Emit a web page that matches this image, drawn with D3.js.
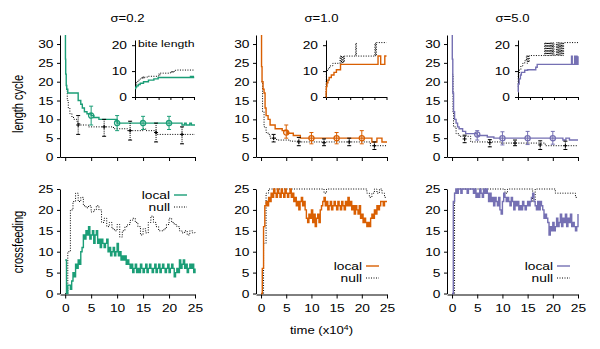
<!DOCTYPE html>
<html>
<head>
<meta charset="utf-8">
<script src="https://cdn.jsdelivr.net/npm/d3@7"></script>
<style>
  body { margin: 0; background: #fff; }
  svg { display: block; font-family: "Liberation Sans", Arial, sans-serif; }
</style>
</head>
<body>
<svg id="chart" width="600" height="349"></svg>
<script>
/* ---------- data ---------- */
const sigmaLabels = ['σ=0.2', 'σ=1.0', 'σ=5.0'];
const seriesColors = ['#1b9e77', '#d95f02', '#7570b3'];

const timeTicks = [0, 5, 10, 15, 20, 25];
const cycleTicks = [0, 5, 10, 15, 20, 25, 30];
const biteTicks = [0, 10, 20];
const crossTicks = [0, 5, 10, 15, 20, 25];

// length cycle, step data [time, value]
const cycleLocal02 = [[0,33],[0.05,26],[0.1,22],[0.2,19],[0.3,18],[0.5,17],[2.5,15],[3,14],[3.3,13],[3.7,12],[4.2,11.5],[5,11],[5.5,10.5],[6.5,10],[10,9],[22.5,8.5],[23,9],[23.3,8.5],[24,9],[24.3,8.5],[25,8.5]];
const cycleNull02 = [[0.2,18],[0.4,15],[0.6,13],[0.9,11.5],[1.3,10.5],[1.7,10],[2.3,9],[2.8,8.5],[4.5,8],[9.3,7.5],[12,7],[15,7.5],[15.5,7],[17.5,6],[25,6]];
const cycleLocal10 = [[0,33],[0.1,24],[0.2,20],[0.4,18],[0.6,17],[0.8,13],[1,11],[1.4,10],[1.8,8.5],[2.8,7.5],[4.2,7],[5.2,6.3],[6.4,5.7],[7.8,5],[22,4],[23,5],[24,4],[25,4]];
const cycleNull10 = [[0.1,20],[0.3,12],[0.6,8],[1,6.5],[1.4,6],[1.8,5],[3.1,4.5],[5.8,4.2],[7.8,4],[21.7,3],[25,3]];
const cycleLocal50 = [[0,33],[0.05,26],[0.15,17],[0.3,12],[0.5,10],[0.8,9],[1.1,8],[1.4,7.5],[2.1,6.8],[2.7,6.2],[5,5.7],[7,5.3],[8.3,5],[22,4.5],[22.6,5],[23.3,4.5],[25,4.5]];
const cycleNull50 = [[0.05,22],[0.2,12],[0.3,8],[0.8,6.2],[1.4,5.5],[3.7,4],[9.6,3.7],[18.5,3],[25,3]];

// error bars [time, value, low, high]
const cycleBarsLocal02 = [[5,11,8.5,13.5],[10,9,7,11],[15,9,7.3,10.8],[20,9,7.3,10.8]];
const cycleBarsNull02 = [[2.5,8.5,6,11],[7.5,8,5.5,10],[12.5,7,4.5,9.5],[17.5,6.5,4,9],[22.5,6,3.5,8]];
const cycleBarsLocal10 = [[5,6.5,5,8.5],[10,5,3.5,6.5],[15,5,3.5,6.5],[20,5,3.5,7]];
const cycleBarsNull10 = [[2.5,5,4,6],[7.5,4,3,5.2],[12.5,3.8,3,4.8],[17.5,4,3,5],[22.5,3,2,4]];
const cycleBarsLocal50 = [[5,6,4.5,7],[10,5,3.2,6.7],[15,5,3.3,6.8],[20,5,3.4,6.8]];
const cycleBarsNull50 = [[2.5,4.8,3.8,5.8],[7.5,3.8,2.7,4.6],[12.5,3.7,3,4.5],[17.5,3.2,2,4.3],[22.5,3,2,4.2]];

// bite length insets, step data [time, value]
const biteLocal02 = [[0,3.3],[0.3,3.8],[0.7,4.3],[1.4,4.8],[2.2,5.3],[3.6,5.9],[5.7,6.5],[8,7],[9.8,7.5],[23.5,7.9],[24,7.5],[24.3,7.9],[24.6,7.5],[24.8,7.9],[25,7.9]];
const biteNull02 = [[0,4],[0.5,5.5],[1.2,6.5],[2.2,7],[2.9,7.7],[3.2,7.2],[3.5,7.9],[3.8,7.2],[4.1,7.7],[5.7,8],[10,8.9],[10.3,8.4],[10.6,9.2],[12,9.2],[15,9.8],[15.4,9.4],[15.8,10],[16.2,9.5],[16.6,10],[17.2,10.4],[25,10.4]];
const biteLocal10 = [[0,0],[0.05,2],[0.15,4],[0.4,5.5],[0.8,6.5],[1.3,7.5],[2.2,8.5],[3.3,9.5],[4.3,10.5],[6,12.6],[21.5,15.8],[22.6,12.6],[24.3,15.8],[25,15.8]];
const biteNull10 = [[0,0],[0.05,6],[0.15,10],[0.6,10.5],[1,11],[1.5,12],[2.8,13],[5.8,15.8],[6.1,13],[6.4,15.8],[6.7,13],[7,15.8],[7.3,13.5],[7.6,15.8],[12.3,20.8],[12.5,15.8],[20.2,20.8],[20.5,15.8],[20.8,21],[25,21]];
const biteLocal50 = [[0,2],[0.1,5],[0.5,7],[1,8.5],[1.4,9.5],[2.8,10.3],[4,10.5],[7.4,11.5],[8,12.6],[22.3,15.7],[22.6,12.6],[23.6,15.7],[24,12.6],[24.3,15.7],[24.6,12.6],[25,15.7]];
const biteNull50 = [[0,4],[0.1,9],[0.6,10.5],[1.2,12],[2,13],[2.8,14],[3.5,16],[3.8,13],[4.1,16],[4.4,13.5],[4.7,16],[11.1,21],[11.4,16],[11.7,21],[12,16],[12.3,21],[12.6,16],[12.9,21],[13.2,16],[13.5,21],[13.8,16],[14.1,21],[14.4,16],[14.7,21],[15,16],[16,21],[16.3,16],[16.6,21],[16.9,16],[17.2,21],[17.5,16],[17.8,21],[18.1,16],[18.4,21],[18.7,16],[19,21],[25,21]];

// crossfeeding: local sampled every 0.25, null every 0.5 (x10^4)
const localStep = 0.25;
const nullStep = 0.5;
const crossLocal02 = [8,0,2,2,1,3,5,4,7,6, 8,7,10,11,14,13,15,14,16,13, 14,15,12,14,15,12,13,11,13,12, 11,12,13,10,11,9,10,11,9,10, 12,9,10,8,9,8,9,7,8,7, 6,7,5,6,7,5,6,5,7,6, 5,6,7,5,6,7,6,5,6,7, 5,6,7,5,6,7,6,5,6,7, 5,6,7,6,4,5,6,5,8,6, 7,8,6,7,5,6,7,6,7,5, 6];
const crossNull02 = [0,10,20,22,24,22,23,21,20.5,21, 19.5,20,21,20,17,18,16,17,15.5,15, 16.5,13.5,15,16,16.5,17.5,18,17,16,14, 15.5,14.5,17,18.5,17,16,15,15,15.5,16.5, 18,17,16.5,16,15,14.5,15,14,15,14.5, 15];
const crossLocal10 = [0,6,16,21,22,21,23,22,24,23, 25,24,23,25,24,23,25,24,23,25, 24,23,24,25,23,24,22,23,21,22, 20,22,23,21,22,20,18,17,19,18, 20,17,19,16,18,19,17,20,21,22, 23,21,22,20,21,22,20,21,22,21, 20,22,21,20,22,21,20,22,21,23, 21,22,20,21,19,21,20,19,21,18, 19,17,18,17,16,17,16,18,19,18, 20,19,21,20,21,22,22,21,22,22, 22];
const crossNull10 = [0,12,24,25,25,25,25,25,25,25, 25,25,25,25,25,25,25,25,25,25, 25,25,25,25,25,24,25,25,25,25, 25,25,25,25,25,25,25,25,25,25, 25,25,24,23,24,25,24,25,24,23, 23];
const crossLocal50 = [0,22,24,25,24,25,25,24,25,25, 25,25,24,25,25,25,25,24,25,23, 24,23,25,24,23,25,24,25,24,22, 24,22,23,21,23,22,21,23,20,19, 22,24,23,22,23,22,21,23,22,20, 22,21,22,20,21,20,22,21,20,21, 22,21,22,23,24,22,21,20,22,20, 22,21,20,18,19,18,17,14,16,15, 17,15,16,18,16,17,19,16,18,17, 19,16,18,17,19,16,17,16,15,16, 19];
const crossNull50 = [0,24,25,25,25,25,25,25,25,25, 25,25,25,25,25,25,25,25,25,25, 25,24,25,25,25,25,25,25,25,25, 25,25,22,25,25,25,25,25,25,25, 25,24,24,24,24,24,24,24,24,23, 23];

const cycleLocal = [cycleLocal02, cycleLocal10, cycleLocal50];
const cycleNull = [cycleNull02, cycleNull10, cycleNull50];
const barsLocal = [cycleBarsLocal02, cycleBarsLocal10, cycleBarsLocal50];
const barsNull = [cycleBarsNull02, cycleBarsNull10, cycleBarsNull50];
const biteLocal = [biteLocal02, biteLocal10, biteLocal50];
const biteNull = [biteNull02, biteNull10, biteNull50];
const crossLocal = [crossLocal02, crossLocal10, crossLocal50];
const crossNull = [crossNull02, crossNull10, crossNull50];

/* ---------- layout ---------- */
const panels = [
  { x0: 60, x1: 195, ix0: 135, ix1: 194, legY: 195 },
  { x0: 256, x1: 387, ix0: 326, ix1: 386.5, legY: 266 },
  { x0: 447, x1: 578, ix0: 518, ix1: 578, legY: 266 }
];
const SX = 1.25;   // the original's lettering is horizontally stretched
const dotted = '1,1.5';
const tickFont = 11;

const svg = d3.select('#chart');

function label(g, x, y, s, size, anchor, rot) {
  return g.append('text')
    .attr('transform', `translate(${x},${y}) scale(${SX},1)` + (rot ? ` rotate(${rot})` : ''))
    .attr('font-size', size)
    .attr('text-anchor', anchor || 'middle')
    .attr('fill', '#000')
    .text(s);
}

function styleAxis(g) {
  g.attr('font-family', null).attr('font-size', tickFont);
  g.selectAll('.domain').attr('stroke', '#000');
  g.selectAll('.tick line').attr('stroke', '#000');
  g.selectAll('.tick text').attr('fill', '#000');
}

function leftAxis(g, scale, xPos, ticks, gap) {
  const a = g.append('g').attr('transform', `translate(${xPos},0)`)
    .call(d3.axisLeft(scale).tickValues(ticks).tickSize(3).tickSizeOuter(0));
  styleAxis(a);
  a.selectAll('.tick text')
    .attr('x', -gap / SX)
    .attr('transform', `scale(${SX},1)`);
  return a;
}

function bottomAxis(g, scale, yPos, ticks, withLabels, len) {
  const ax = d3.axisBottom(scale).tickValues(ticks).tickSize(len || 4).tickSizeOuter(0);
  if (!withLabels) ax.tickFormat('');
  const a = g.append('g').attr('transform', `translate(0,${yPos})`).call(ax);
  styleAxis(a);
  a.selectAll('.tick text').attr('y', 17.5).attr('dy', 0).attr('transform', `scale(${SX},1)`);
  return a;
}

function errorBars(g, x, y, bars, color, isNull) {
  const grp = g.append('g').selectAll('g').data(bars).join('g')
    .attr('transform', d => `translate(${x(d[0])},0)`);
  grp.append('line')
    .attr('y1', d => y(d[2])).attr('y2', d => y(d[3]))
    .attr('stroke', color).attr('stroke-width', 1)
    .attr('stroke-dasharray', isNull ? '1,1' : null);
  grp.append('line').attr('x1', -2).attr('x2', 2)
    .attr('y1', d => y(d[2])).attr('y2', d => y(d[2]))
    .attr('stroke', color).attr('stroke-width', 1);
  grp.append('line').attr('x1', -2).attr('x2', 2)
    .attr('y1', d => y(d[3])).attr('y2', d => y(d[3]))
    .attr('stroke', color).attr('stroke-width', 1);
  if (isNull) {
    grp.append('path')
      .attr('d', d => `M-2,${y(d[1])}H2M0,${y(d[1]) - 2}V${y(d[1]) + 2}`)
      .attr('stroke', color).attr('stroke-width', 1);
  } else {
    grp.append('circle').attr('cy', d => y(d[1])).attr('r', 2.6)
      .attr('fill', 'none').attr('stroke', color).attr('stroke-width', 1.3);
  }
}

panels.forEach((p, i) => {
  const color = seriesColors[i];
  const x = d3.scaleLinear([-1, 25], [p.x0, p.x1]);
  const yTop = d3.scaleLinear([0, 32.4], [157, 35]);
  const yBot = d3.scaleLinear([0, 25], [293.5, 189]);
  const xIn = d3.scaleLinear([0, 25], [p.ix0, p.ix1]);
  const yIn = d3.scaleLinear([0, 22], [97, 40]);

  const g = svg.append('g');

  // title
  label(g, (p.x0 + p.x1) / 2, 21.5, sigmaLabels[i], 10.5);

  /* ----- top: length cycle ----- */
  const clipId = 'clipTop' + i;
  svg.append('clipPath').attr('id', clipId)
    .append('rect').attr('x', p.x0).attr('y', 35).attr('width', p.x1 - p.x0 + 2).attr('height', 123);

  bottomAxis(g, x, 157, timeTicks, false);
  leftAxis(g, yTop, p.x0, cycleTicks, 6.5);

  const lineTop = d3.line().x(d => x(d[0])).y(d => yTop(d[1])).curve(d3.curveStepAfter);
  const top = g.append('g').attr('clip-path', `url(#${clipId})`);
  top.append('path').datum(cycleNull[i]).attr('d', lineTop)
    .attr('fill', 'none').attr('stroke', '#000').attr('stroke-width', 1).attr('stroke-dasharray', dotted);
  top.append('path').datum(cycleLocal[i]).attr('d', lineTop)
    .attr('fill', 'none').attr('stroke', color).attr('stroke-width', 1.4);
  errorBars(top, x, yTop, barsNull[i], '#000', true);
  errorBars(top, x, yTop, barsLocal[i], color, false);

  /* ----- inset: bite length ----- */
  bottomAxis(g, xIn, 97, timeTicks, false, 3);
  leftAxis(g, yIn, p.ix0, biteTicks, 8);
  const lineIn = d3.line().x(d => xIn(d[0])).y(d => yIn(d[1])).curve(d3.curveStepAfter);
  g.append('path').datum(biteNull[i]).attr('d', lineIn)
    .attr('fill', 'none').attr('stroke', '#000').attr('stroke-width', 1).attr('stroke-dasharray', dotted);
  g.append('path').datum(biteLocal[i]).attr('d', lineIn)
    .attr('fill', 'none').attr('stroke', color).attr('stroke-width', 1.4);
  if (i === 0) label(g, p.ix0 + 3, 46.5, 'bite length', 9.8, 'start');

  /* ----- bottom: crossfeeding ----- */
  bottomAxis(g, x, 294.5, crossTicks, true);
  leftAxis(g, yBot, p.x0, crossTicks, 6.5);

  const lineBot = d3.line().x(d => x(d[0])).y(d => yBot(d[1])).curve(d3.curveStepAfter);
  const nullPts = crossNull[i].map((v, k) => [k * nullStep, v]);
  const localPts = crossLocal[i].map((v, k) => [k * localStep, v]);
  g.append('path').datum(nullPts).attr('d', lineBot)
    .attr('fill', 'none').attr('stroke', '#000').attr('stroke-width', 1).attr('stroke-dasharray', dotted);
  g.append('path').datum(localPts).attr('d', lineBot)
    .attr('fill', 'none').attr('stroke', color).attr('stroke-width', 1.4);

  // legend
  const lx = p.x1 - 22;
  label(g, lx - 3, p.legY + 4, 'local', 11, 'end');
  label(g, lx - 3, p.legY + 16, 'null', 11, 'end');
  g.append('line').attr('x1', lx + 1).attr('x2', lx + 14).attr('y1', p.legY).attr('y2', p.legY)
    .attr('stroke', color).attr('stroke-width', 1.4);
  g.append('line').attr('x1', lx + 1).attr('x2', lx + 14).attr('y1', p.legY + 12).attr('y2', p.legY + 12)
    .attr('stroke', '#000').attr('stroke-width', 1).attr('stroke-dasharray', dotted);
});

// axis titles
label(svg, 18, 104, 'length cycle', 11, 'middle', -90).attr('dy', '0.35em');
label(svg, 18, 242, 'crossfeeding', 11, 'middle', -90).attr('dy', '0.35em');
const tl = label(svg, 321.5, 334, '', 10.5, 'middle');
tl.append('tspan').text('time (x10');
tl.append('tspan').attr('font-size', 7).attr('dy', -4).text('4');
tl.append('tspan').attr('dy', 4).text(')');
</script>
</body>
</html>
